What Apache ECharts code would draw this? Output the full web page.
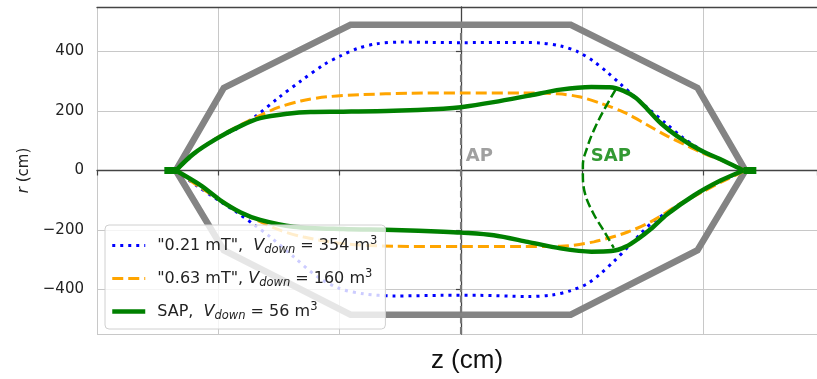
<!DOCTYPE html>
<html>
<head>
<meta charset="utf-8">
<script src="https://cdn.jsdelivr.net/npm/echarts@6/dist/echarts.min.js"></script>
<style>
  html, body { margin: 0; padding: 0; background: #fff; }
  #chart { width: 817px; height: 379px; }
</style>
</head>
<body>
<div id="chart"></div>
<script>
// z, r pairs in cm
var vesselOutline = [[-470, 0], [-391, 278], [-182, 490], [181, 490], [390, 278], [469, 0],
    [390, -268], [181, -485], [-182, -485], [-391, -268], [-470, 0]];

var field021Upper = [[-470, 0], [-440, 55], [-405, 106], [-370, 140], [-340, 180], [-300, 246],
    [-264, 301], [-226, 356], [-198, 386], [-170, 411], [-140, 426], [-100, 432], [-50, 431], [0, 430],
    [80, 431], [130, 429], [164, 419], [192, 400], [219, 367], [241, 331], [263, 291], [285, 251],
    [313, 201], [338, 158], [365, 112], [397, 68], [432, 33], [469, 0]];
var field021Lower = [[-470, 0], [-435, -52], [-400, -100], [-370, -140], [-340, -184], [-314, -224],
    [-276, -290], [-237, -357], [-200, -397], [-160, -415], [-111, -422], [-30, -420], [30, -420],
    [110, -424], [150, -419], [181, -404], [209, -380], [230, -347], [252, -306], [275, -258],
    [296, -213], [318, -170], [345, -135], [384, -84], [428, -35], [469, 0]];

var field063Upper = [[-470, 0], [-440, 57], [-402, 110], [-360, 157], [-330, 186], [-300, 213],
    [-264, 234], [-220, 248], [-165, 255], [-83, 260], [0, 261], [100, 261], [160, 258], [195, 248],
    [230, 226], [270, 195], [308, 152], [341, 115], [395, 62], [435, 30], [469, 0]];
var field063Lower = [[-470, 0], [-435, -50], [-396, -101], [-363, -141], [-331, -172], [-300, -200],
    [-259, -224], [-194, -246], [-111, -255], [0, -256], [100, -256], [164, -255], [219, -240],
    [275, -207], [318, -167], [357, -117], [400, -70], [435, -33], [469, 0]];

var sapUpper = [[-470, 0], [-441, 56], [-402, 108], [-363, 150], [-331, 176], [-286, 191],
    [-248, 197], [-194, 198], [-111, 201], [-29, 208], [0, 213], [54, 230], [110, 251], [164, 272],
    [215, 281], [245, 280], [268, 268], [288, 245], [308, 205], [330, 158], [357, 115], [395, 68],
    [433, 33], [466, 0]];
var sapLower = [[-470, 0], [-429, -50], [-396, -101], [-363, -141], [-331, -166],
    [-276, -189], [-194, -197], [-111, -200], [-29, -206], [0, -209], [54, -218], [110, -240],
    [164, -262], [215, -273], [248, -271], [272, -256], [292, -230], [313, -197], [340, -147],
    [384, -84], [428, -34], [466, 0]];
var sapLeftTip = [[-489, 0], [-468, 0]];
var sapRightTip = [[466, 0], [487, 0]];

var sapBoundary = [[255, 272], [235, 201], [219, 135], [209, 82], [201, 16], [201, -14], [205, -81],
    [219, -147], [235, -201], [252, -260]];

var apLine = [[0, -550], [0, 464]];

var labelPoints = [[8, 49, 'AP'], [214, 49, 'SAP']];
var labelColors = ['#888888', '#008000'];

var legendNames = ['"0.21 mT"', '"0.63 mT"', 'SAP'];
var legendVolumes = ['354', '160', '56'];

var yTickValues = [-400, -200, 0, 200, 400];
var yTickLabels = ['\u2212400', '\u2212200', '0', '200', '400'];

var chart = echarts.init(document.getElementById('chart'));

var FONT = 'DejaVu Sans';

var styles = {
    '"0.21 mT"': { color: '#0000ff', width: 3, type: [3, 5] },
    '"0.63 mT"': { color: '#ffa500', width: 3, type: [11, 5] },
    'SAP': { color: '#008000', width: 4.5, type: 'solid' }
};

function curve(name, data) {
    var s = styles[name];
    return {
        name: name,
        type: 'line',
        data: data,
        symbol: 'none',
        smooth: 0.3,
        silent: true,
        lineStyle: { color: s.color, width: s.width, type: s.type, cap: 'butt' },
        itemStyle: { color: s.color },
        z: 3
    };
}

function tip(data) {
    return {
        name: 'SAP',
        type: 'line',
        data: data,
        symbol: 'none',
        silent: true,
        lineStyle: { color: '#008000', width: 7, cap: 'butt' },
        z: 3
    };
}

var option = {
    backgroundColor: '#fff',
    animation: false,
    grid: { left: 97, right: 0, top: 7, bottom: 41 },
    legend: {
        data: legendNames.map(function (n) {
            var s = styles[n];
            return {
                name: n,
                itemStyle: { opacity: 0 },
                lineStyle: { color: s.color, width: s.width, type: s.type, cap: 'butt' }
            };
        }),
        orient: 'vertical',
        left: 105,
        top: 225,
        itemWidth: 33,
        itemHeight: 12,
        itemGap: 12,
        padding: [10, 8, 7, 5],
        backgroundColor: 'rgba(255,255,255,0.8)',
        borderColor: '#d0d0d0',
        borderWidth: 1,
        borderRadius: 4,
        selectedMode: false,
        formatter: function (name) {
            var i = legendNames.indexOf(name);
            var gap = i === 1 ? ' ' : '  ';
            return '{t|' + name + ',' + gap + '}{i|V}{s|down}{t| = ' + legendVolumes[i] + ' m}{p|3}';
        },
        textStyle: {
            color: '#222',
            fontFamily: FONT,
            padding: [0, 0, 0, 7],
            rich: {
                t: { fontSize: 16, fontFamily: FONT, color: '#222', lineHeight: 22 },
                i: { fontSize: 16, fontFamily: FONT, fontStyle: 'italic', color: '#222', lineHeight: 22 },
                s: { fontSize: 11.5, fontFamily: FONT, fontStyle: 'italic', color: '#222', padding: [9, 0, 0, 0] },
                p: { fontSize: 11.5, fontFamily: FONT, color: '#222', padding: [0, 0, 9, 0] }
            }
        }
    },
    xAxis: [{
        type: 'value',
        min: -600,
        max: 587,
        interval: 200,
        name: 'z (cm)',
        nameLocation: 'middle',
        nameGap: 14,
        nameTextStyle: { fontFamily: 'Liberation Sans', fontSize: 26, color: '#111', padding: [0, 0, 0, 20] },
        axisLine: { show: true, lineStyle: { color: '#444', width: 1.3 } },
        axisTick: { show: true, length: 5, lineStyle: { color: '#444', width: 1.2 } },
        axisLabel: { show: false },
        splitLine: { show: true, lineStyle: { color: '#c8c8c8', width: 1 } }
    }, {
        type: 'value',
        position: 'top',
        min: -600,
        max: 587,
        axisLine: { show: true, lineStyle: { color: '#444', width: 1.3 } },
        axisTick: { show: false },
        axisLabel: { show: false },
        splitLine: { show: false }
    }],
    yAxis: {
        type: 'value',
        min: -550,
        max: 550,
        splitNumber: 5,
        name: '{i|r}{t| (cm)}',
        nameLocation: 'middle',
        nameRotate: 90,
        nameGap: 64,
        nameTextStyle: {
            rich: {
                i: { fontFamily: FONT, fontSize: 15, fontStyle: 'italic', color: '#222' },
                t: { fontFamily: FONT, fontSize: 15, color: '#222' }
            }
        },
        axisLine: { show: true, lineStyle: { color: '#444', width: 1.3 } },
        axisTick: { show: true, length: 5, lineStyle: { color: '#444', width: 1.2 } },
        axisLabel: {
            showMinLabel: false,
            showMaxLabel: false,
            margin: 13,
            fontFamily: FONT,
            fontSize: 15,
            color: '#222',
            formatter: function (v) {
                var idx = yTickValues.indexOf(v);
                return idx >= 0 ? yTickLabels[idx] : '';
            }
        },
        splitLine: { show: true, lineStyle: { color: '#c8c8c8', width: 1 } }
    },
    series: [
        {
            name: 'vessel',
            type: 'line',
            data: vesselOutline,
            symbol: 'none',
            silent: true,
            lineStyle: { color: '#848484', width: 6.5, join: 'miter' },
            z: 2
        },
        {
            name: 'AP line',
            type: 'line',
            data: apLine,
            symbol: 'none',
            silent: true,
            lineStyle: { color: '#7a7a7a', width: 2, type: [7, 3.5] },
            z: 2
        },
        curve('"0.21 mT"', field021Upper),
        curve('"0.21 mT"', field021Lower),
        curve('"0.63 mT"', field063Upper),
        curve('"0.63 mT"', field063Lower),
        curve('SAP', sapUpper),
        curve('SAP', sapLower),
        tip(sapLeftTip),
        tip(sapRightTip),
        {
            name: 'SAP boundary',
            type: 'line',
            data: sapBoundary,
            symbol: 'none',
            smooth: 0.4,
            silent: true,
            lineStyle: { color: '#008000', width: 2.5, type: [9, 4] },
            z: 3
        },
        {
            name: 'labels',
            type: 'scatter',
            symbolSize: 0,
            silent: true,
            data: labelPoints.map(function (p, i) {
                return {
                    value: [p[0], p[1]],
                    label: { formatter: p[2], color: labelColors[i] }
                };
            }),
            label: {
                show: true,
                position: 'right',
                distance: 0,
                fontFamily: FONT,
                fontWeight: 'bold',
                fontSize: 18
            },
            z: 4
        }
    ]
};

chart.setOption(option);
</script>
</body>
</html>
